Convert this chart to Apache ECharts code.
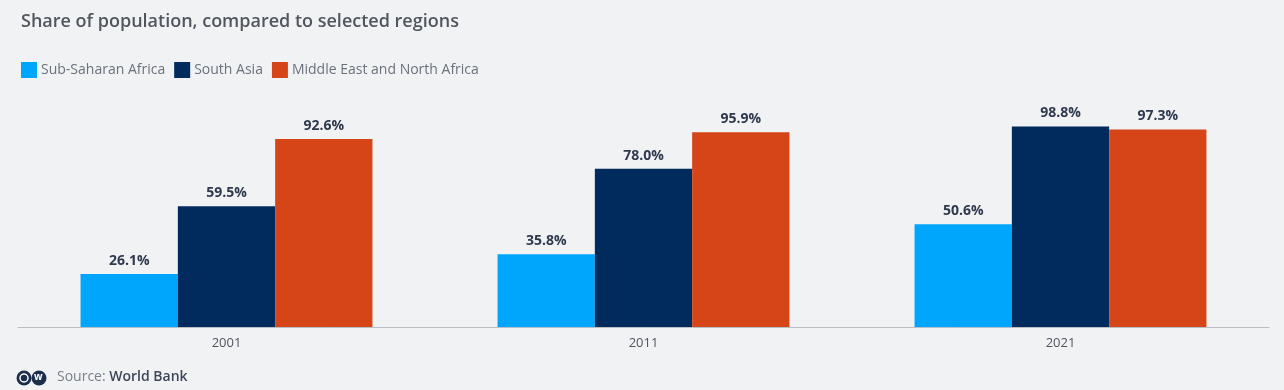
<!DOCTYPE html>
<html><head><meta charset="utf-8">
<script src="https://cdn.jsdelivr.net/npm/echarts@6/dist/echarts.min.js"></script>
<style>html,body{margin:0;padding:0;background:#f1f2f4;}#c{width:1284px;height:390px;}</style>
</head><body><div id="c"></div>
<script>
const categories = ['2001', '2011', '2021'];
const seriesNames = ['Sub-Saharan Africa', 'South Asia', 'Middle East and North Africa'];
const subSaharan = [26.1, 35.8, 50.6];
const southAsia = [59.5, 78.0, 98.8];
const mena = [92.6, 95.9, 97.3];
const colors = ['#00a6fb', '#002b5c', '#d64518'];
const values = [subSaharan, southAsia, mena];

const chart = echarts.init(document.getElementById('c'));
chart.setOption({
  backgroundColor: '#f1f2f4',
  animation: false,
  title: {
    text: 'Share of population, compared to selected regions',
    left: 16, top: 8,
    textStyle: { fontFamily: 'Open Sans', fontSize: 18, fontWeight: 600, color: '#51565e' }
  },
  legend: {
    left: 16, top: 57, itemWidth: 16, itemHeight: 16, itemGap: 9,
    icon: 'rect',
    textStyle: { fontFamily: 'Open Sans', fontSize: 14, color: '#6b717c', padding: [0, 0, 0, -1] },
    data: seriesNames
  },
  grid: { left: 18, right: 15, top: 124, bottom: 63 },
  xAxis: {
    type: 'category', data: categories,
    axisLine: { lineStyle: { color: '#b9bdc4' } },
    axisTick: { show: false },
    axisLabel: { fontFamily: 'Open Sans', fontSize: 13, color: '#50555d', margin: 10 }
  },
  yAxis: { type: 'value', min: 0, max: 100, show: false, splitLine: { show: false } },
  series: values.map((v, i) => ({
    name: seriesNames[i], type: 'bar', data: v,
    barGap: '0%', barCategoryGap: '30%',
    itemStyle: { color: colors[i] },
    label: {
      show: true, position: 'top', distance: 6,
      formatter: p => p.value.toFixed(1) + '%',
      fontFamily: 'Open Sans', fontSize: 14, fontWeight: 'bold', color: '#2f3a4e'
    }
  })),
  graphic: [
    { type: 'circle', shape: { cx: 24, cy: 378, r: 7.5 }, style: { fill: '#1b2e4d' } },
    { type: 'circle', shape: { cx: 39, cy: 378, r: 7.5 }, style: { fill: '#1b2e4d' } },
    { type: 'circle', shape: { cx: 24, cy: 378, r: 4 }, style: { fill: 'none', stroke: '#ffffff', lineWidth: 1.5 } },
    { type: 'text', left: 34, top: 372, style: { text: 'w', fill: '#ffffff', font: 'bold 10px "Open Sans"' } },
    { type: 'text', left: 57, top: 370, style: { rich: { a: { fontFamily: 'Open Sans', fontSize: 14, fill: '#7a808a' }, b: { fontFamily: 'Open Sans', fontSize: 14, fill: '#3c4658', fontWeight: 600 } }, text: '{a|Source: }{b|World Bank}' } }
  ]
});
</script></body></html>
